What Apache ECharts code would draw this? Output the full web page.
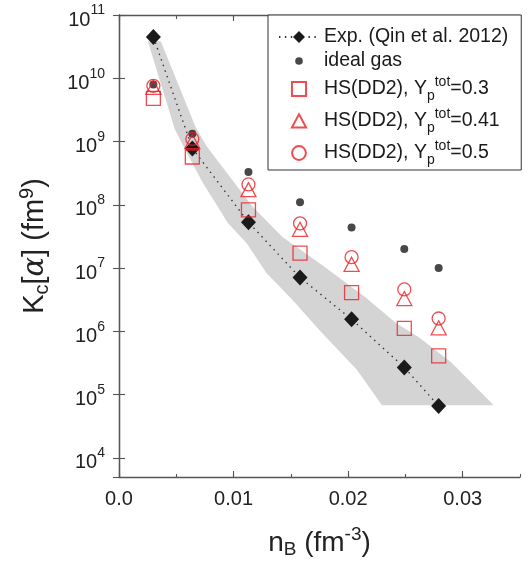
<!DOCTYPE html>
<html><head><meta charset="utf-8">
<script src="https://cdn.jsdelivr.net/npm/echarts@6/dist/echarts.min.js"></script>
<style>html,body{margin:0;padding:0;background:#fff}#c{width:527px;height:563px}</style>
</head><body><div id="c"></div>
<script>
// ---- data ----
const nB      = [0.003, 0.0064, 0.0113, 0.0158, 0.0203, 0.0249, 0.0279];
const kExp    = [4.5e10, 7.8e8, 5.3e7, 7.1e6, 1.55e6, 2.7e5, 6.6e4];
const kIdeal  = [8.0e9, 1.33e9, 3.3e8, 1.1e8, 4.4e7, 2.0e7, 1.0e7];
const kHS03   = [4.8e9, 5.7e8, 8.3e7, 1.72e7, 4.1e6, 1.12e6, 4.1e5];
const kHS041  = [7.2e9, 1.0e9, 1.74e8, 4.1e7, 1.15e7, 3.3e6, 1.14e6];
const kHS05   = [7.6e9, 1.1e9, 2.1e8, 5.1e7, 1.49e7, 4.6e6, 1.6e6];
const bandUpper = [[0.00365,3.85e10],[0.0067,1.67e9],[0.00765,8.4e8],[0.00939,3.24e8],[0.01165,9.4e7],[0.01426,3.1e7],[0.01748,1.21e7],[0.02148,3.5e6],[0.02417,1.36e6],[0.02617,8.1e5],[0.02904,3.2e5],[0.0327,6.8e4]];
const bandLower = [[0.00252,3.85e10],[0.00487,1.56e9],[0.00591,6.7e8],[0.0073,2.25e8],[0.00861,9.4e7],[0.00948,5.2e7],[0.01113,2.5e7],[0.01287,8.4e6],[0.01513,3.15e6],[0.01748,1.05e6],[0.02078,2.45e5],[0.02295,6.8e4]];
const xTickLabels = ['0.0', '0.01', '0.02', '0.03'];
const seriesNames = ['Exp. (Qin et al. 2012)', 'ideal gas', 'HS(DD2), Yp^tot=0.3', 'HS(DD2), Yp^tot=0.41', 'HS(DD2), Yp^tot=0.5'];
const legendLabels = [
  '{t|Exp. (Qin et al. 2012)}',
  '{t|ideal gas}',
  '{t|HS(DD2), Y}{sub|p}{sup|tot}{t|=0.3}',
  '{t|HS(DD2), Y}{sub|p}{sup|tot}{t|=0.41}',
  '{t|HS(DD2), Y}{sub|p}{sup|tot}{t|=0.5}'
];

const FONT = 'Liberation Sans, Arial, Helvetica, sans-serif';
const RED = '#ea1f26';
const AX = '#555';
const pairs = arr => arr.map((v, i) => [nB[i], v]);
const bandPolygon = bandUpper.concat(bandLower.slice().reverse());
// legend icons: the two bare moveTo points pad a 20x20 icon box so each marker keeps its shape and size
const iconDot    = 'path://M0,0M20,20M10,4.9A5.1,5.1,0,1,1,10,15.1A5.1,5.1,0,1,1,10,4.9Z';
const iconSquare = 'path://M0,0M20,20M0.6,0.6L19.4,0.6L19.4,19.4L0.6,19.4Z';
const iconTri    = 'path://M0,0M20,20M10,1L19.5,18.8L0.5,18.8Z';
const iconCircle = 'path://M0,0M20,20M10,0.8A9.2,9.2,0,1,1,10,19.2A9.2,9.2,0,1,1,10,0.8Z';

const chart = echarts.init(document.getElementById('c'), null, {renderer: 'canvas'});
const xCommon = {type: 'value', min: 0, max: 0.035, splitLine: {show: false}};
const yCommon = {type: 'log', min: 5000, max: 1e11, splitLine: {show: false}, minorTick: {show: false}};

chart.setOption({
  animation: false,
  backgroundColor: '#fff',
  grid: {left: 119, right: 7, top: 15, bottom: 86, containLabel: false, outerBoundsMode: 'none'},
  xAxis: [
    Object.assign({}, xCommon, {
      position: 'bottom', interval: 0.01,
      axisLine: {show: true, lineStyle: {color: AX, width: 1.3}},
      axisTick: {show: true, inside: true, length: 6, lineStyle: {color: AX, width: 1.1}},
      axisLabel: {show: true, margin: 12, showMaxLabel: false, color: '#222', fontFamily: FONT, fontSize: 20,
        formatter: v => { const i = Math.round(v * 100); return (Math.abs(v * 100 - i) < 1e-6 && xTickLabels[i] !== undefined) ? xTickLabels[i] : ''; }},
      name: '{n|n}{b|B}{n| (fm}{s|-3}{n|)}',
      nameLocation: 'middle', nameGap: 51,
      nameTextStyle: {color: '#222', fontFamily: FONT, rich: {
        n: {fontSize: 28, lineHeight: 30, fontFamily: FONT, color: '#222'},
        b: {fontSize: 19, lineHeight: 20, padding: [14, 0, 0, 0], fontFamily: FONT, color: '#222'},
        s: {fontSize: 19, lineHeight: 20, padding: [0, 0, 16, 0], fontFamily: FONT, color: '#222'}
      }}
    }),
    Object.assign({}, xCommon, {
      position: 'bottom', interval: 0.005,
      axisLine: {show: false},
      axisTick: {show: true, inside: true, length: 3, lineStyle: {color: AX, width: 1.1}},
      axisLabel: {show: false}
    }),
    Object.assign({}, xCommon, {
      position: 'top', interval: 0.01,
      axisLine: {show: true, lineStyle: {color: AX, width: 1.3}},
      axisTick: {show: true, inside: true, length: 6, lineStyle: {color: AX, width: 1.1}},
      axisLabel: {show: false}
    }),
    Object.assign({}, xCommon, {
      position: 'top', interval: 0.005,
      axisLine: {show: false},
      axisTick: {show: true, inside: true, length: 4, lineStyle: {color: AX, width: 1.1}},
      axisLabel: {show: false}
    })
  ],
  yAxis: [
    Object.assign({}, yCommon, {
      position: 'left',
      axisLine: {show: true, lineStyle: {color: AX, width: 1.3}},
      axisTick: {show: true, inside: true, length: 6, lineStyle: {color: AX, width: 1.1}},
      axisLabel: {show: true, margin: 14, showMinLabel: false,
        formatter: v => { const e = Math.log10(v); const r = Math.round(e); return Math.abs(e - r) < 1e-6 ? '{b|10}{e|' + r + '}' : ''; },
        rich: {
          b: {fontSize: 20, lineHeight: 20, padding: [10, 0, 0, 0], fontFamily: FONT, color: '#222'},
          e: {fontSize: 14, lineHeight: 14, padding: [0, 0, 9, 0], fontFamily: FONT, color: '#222'}
        }},
      name: '{k|K}{c|c}{k|[}{a|α}{k|] (fm}{s|9}{k|)}',
      nameLocation: 'middle', nameGap: 69, nameRotate: 90,
      nameTextStyle: {color: '#222', fontFamily: FONT, rich: {
        k: {fontSize: 29, lineHeight: 30, fontFamily: FONT, color: '#222'},
        c: {fontSize: 20, lineHeight: 20, padding: [14, 0, 0, 0], fontFamily: FONT, color: '#222'},
        a: {fontSize: 29, lineHeight: 30, fontFamily: 'DejaVu Serif, Liberation Serif, serif', fontStyle: 'italic', color: '#222'},
        s: {fontSize: 20, lineHeight: 20, padding: [0, 0, 16, 0], fontFamily: FONT, color: '#222'}
      }}
    }),
    Object.assign({}, yCommon, {
      position: 'right',
      axisLine: {show: true, lineStyle: {color: AX, width: 1.3}},
      axisTick: {show: true, inside: true, length: 6, lineStyle: {color: AX, width: 1.1}},
      axisLabel: {show: false}
    })
  ],
  legend: {
    orient: 'vertical', left: 268, top: 15,
    padding: [12, 13, 3, 10],
    itemGap: 4, itemWidth: 40, itemHeight: 15, itemTextGap: 6,
    symbolKeepAspect: true,
    borderColor: '#333', borderWidth: 1, backgroundColor: '#fff',
    data: [
      {name: seriesNames[0]},
      {name: seriesNames[1], icon: iconDot},
      {name: seriesNames[2], icon: iconSquare},
      {name: seriesNames[3], icon: iconTri},
      {name: seriesNames[4], icon: iconCircle}
    ],
    formatter: name => legendLabels[seriesNames.indexOf(name)],
    textStyle: {fontFamily: FONT, fontSize: 19.5, color: '#1a1a1a', rich: {
      t: {fontSize: 19.5, lineHeight: 20, fontFamily: FONT, color: '#1a1a1a'},
      sub: {fontSize: 14, lineHeight: 14, padding: [14, 0, 0, 0], fontFamily: FONT, color: '#1a1a1a'},
      sup: {fontSize: 14, lineHeight: 14, padding: [0, 0, 14, 0], fontFamily: FONT, color: '#1a1a1a'}
    }}
  },
  series: [
    {
      type: 'custom', name: 'band', xAxisIndex: 0, yAxisIndex: 0, silent: true, z: 1,
      data: bandPolygon,
      renderItem: (params, api) => {
        if (params.dataIndex !== 0) return null;
        return {type: 'polygon', shape: {points: bandPolygon.map(p => api.coord(p))}, style: {fill: '#d4d4d4'}};
      }
    },
    {
      type: 'line', name: seriesNames[0], data: pairs(kExp), z: 3,
      symbol: 'diamond', symbolSize: [15, 16], showAllSymbol: true,
      lineStyle: {color: '#333', width: 1.4, type: [1.4, 4.5]},
      itemStyle: {color: '#1a1a1a', borderWidth: 0}
    },
    {
      type: 'scatter', name: seriesNames[1], data: pairs(kIdeal), z: 3,
      symbol: 'circle', symbolSize: 8, itemStyle: {color: '#1a1a1a'}
    },
    {
      type: 'scatter', name: seriesNames[2], data: pairs(kHS03), z: 4,
      symbol: 'rect', symbolSize: 14,
      itemStyle: {color: 'rgba(255,255,255,0)', borderColor: RED, borderWidth: 1.3}
    },
    {
      type: 'scatter', name: seriesNames[3], data: pairs(kHS041), z: 4,
      symbol: 'triangle', symbolSize: [15, 14],
      itemStyle: {color: 'rgba(255,255,255,0)', borderColor: RED, borderWidth: 1.3}
    },
    {
      type: 'scatter', name: seriesNames[4], data: pairs(kHS05), z: 4,
      symbol: 'circle', symbolSize: 13,
      itemStyle: {color: 'rgba(255,255,255,0)', borderColor: RED, borderWidth: 1.3}
    }
  ]
});
</script>
</body></html>
